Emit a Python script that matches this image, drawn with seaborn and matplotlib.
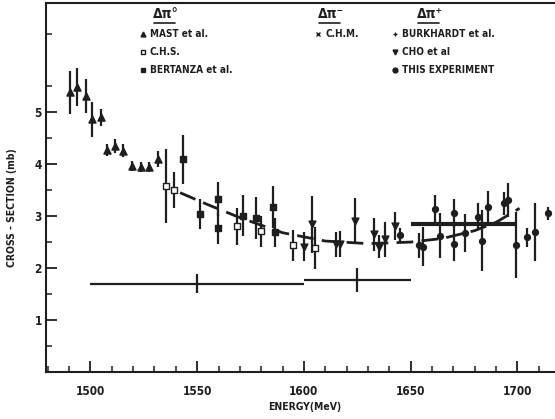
import numpy as np
import pandas as pd
import matplotlib
matplotlib.use("Agg")
import matplotlib.pyplot as plt
import seaborn as sns

# ---------------- data ----------------
mast_E = [1490.4, 1493.5, 1497.8, 1500.8, 1504.8, 1507.6, 1511.5, 1515.4, 1519.6, 1523.5, 1527.4, 1531.5]
mast_v = [5.38, 5.48, 5.31, 4.86, 4.90, 4.27, 4.35, 4.26, 3.96, 3.95, 3.95, 4.10]
mast_e = [0.42, 0.36, 0.33, 0.34, 0.17, 0.12, 0.14, 0.12, 0.10, 0.10, 0.10, 0.16]

chs_E = [1535.4, 1539.3, 1568.6, 1579.9, 1594.7, 1605.2]
chs_v = [3.58, 3.50, 2.80, 2.71, 2.44, 2.39]
chs_e = [0.72, 0.34, 0.35, 0.30, 0.30, 0.40]

bert_E = [1543.2, 1551.3, 1559.6, 1559.6, 1571.6, 1577.5, 1585.3, 1586.3]
bert_v = [4.09, 3.04, 3.33, 2.78, 3.01, 2.96, 3.17, 2.69]
bert_e = [0.47, 0.28, 0.33, 0.31, 0.40, 0.40, 0.40, 0.28]

cho_E = [1599.9, 1603.6, 1615.0, 1616.9, 1623.9, 1632.8, 1635.1, 1637.9, 1642.6]
cho_v = [2.41, 2.84, 2.46, 2.46, 2.91, 2.65, 2.41, 2.55, 2.81]
cho_e = [0.28, 0.55, 0.24, 0.25, 0.43, 0.32, 0.22, 0.33, 0.27]

this_E = [1645.0, 1653.9, 1655.9, 1661.4, 1663.7, 1670.4, 1670.4, 1675.4, 1681.6,
          1683.2, 1686.4, 1693.5, 1695.7, 1699.3, 1704.3, 1708.4, 1714.4]
this_v = [2.63, 2.44, 2.41, 3.13, 2.62, 3.06, 2.47, 2.67, 2.99,
          2.53, 3.17, 3.25, 3.31, 2.44, 2.59, 2.69, 3.05]
this_e = [0.14, 0.24, 0.38, 0.28, 0.43, 0.27, 0.33, 0.37, 0.26,
          0.58, 0.31, 0.22, 0.33, 0.64, 0.18, 0.56, 0.12]

# Delta pi- (C.H.M.) broad bins
chm_E = [1550, 1625]
chm_v = [1.70, 1.77]
chm_xerr = [50, 25]
chm_yerr = [0.18, 0.24]

# Delta pi+ (Burkhardt) broad bin
burk_E = [1675]
burk_v = [2.84]
burk_xerr = [25]

# dashed fit curve
fit_E = [1542, 1555, 1570, 1590, 1610, 1630, 1650, 1665, 1680, 1690, 1701]
fit_v = [3.45, 3.22, 2.97, 2.68, 2.52, 2.47, 2.50, 2.57, 2.72, 2.88, 3.15]

x_ticks = [1500, 1550, 1600, 1650, 1700]
y_ticks = [1, 2, 3, 4, 5]

# ---------------- drawing ----------------
sns.set_theme(style="ticks")
plt.rcParams['font.family'] = ['DejaVu Sans']
plt.rcParams['font.stretch'] = 'condensed'
INK = "#1e1e1e"

W, H = 555, 419
fig = plt.figure(figsize=(W / 100, H / 100), dpi=100)
fig.patch.set_facecolor("white")
ax = fig.add_axes([46 / W, (H - 372) / H, (W - 46) / W, (372 - 3) / H])
ax.set_facecolor("white")

def series(E, v, e, marker, filled=True, size=22):
    ax.errorbar(E, v, yerr=e, fmt="none", ecolor=INK, elinewidth=1.6, capsize=0, zorder=2)
    df = pd.DataFrame({"E": E, "v": v})
    sns.scatterplot(data=df, x="E", y="v", ax=ax, marker=marker, s=size,
                    color=INK if filled else "white", edgecolor=INK, linewidth=1.0,
                    zorder=3, legend=False)

series(mast_E, mast_v, mast_e, "^", size=26)
series(chs_E, chs_v, chs_e, "s", filled=False, size=18)
series(bert_E, bert_v, bert_e, "s", size=16)
series(cho_E, cho_v, cho_e, "v", size=24)
series(this_E, this_v, this_e, "o", size=18)

ax.errorbar(chm_E, chm_v, xerr=chm_xerr, yerr=chm_yerr, fmt="none", ecolor=INK,
            elinewidth=1.6, capsize=0, zorder=2)
ax.errorbar(burk_E, burk_v, xerr=burk_xerr, fmt="none", ecolor=INK,
            elinewidth=3.0, capsize=0, zorder=2)

fit_df = pd.DataFrame({"E": fit_E, "v": fit_v})
sns.lineplot(data=fit_df, x="E", y="v", ax=ax, color=INK, linewidth=2.0,
             dashes=False, zorder=2, legend=False)
ax.lines[-1].set_dashes([6, 3])

ax.set_xlim(1479.2, 1717.6)
ax.set_ylim(0, 7.1)
ax.set_xticks(x_ticks)
ax.set_xticklabels([str(t) for t in x_ticks])
ax.set_xticks(np.arange(1480, 1720, 10), minor=True)
ax.set_yticks(y_ticks)
ax.set_yticklabels([str(t) for t in y_ticks])
ax.set_yticks(np.arange(0.5, 7.0, 1.0), minor=True)
ax.tick_params(which="major", direction="in", length=8, width=1.3, colors=INK,
               labelsize=8.5)
ax.tick_params(which="minor", direction="in", length=4, width=1.1, colors=INK)
ax.tick_params(axis="x", pad=9)
ax.tick_params(axis="y", pad=3)
for lab in ax.get_xticklabels() + ax.get_yticklabels():
    lab.set_fontweight("bold")
    lab.set_fontstretch("condensed")

ax.spines["right"].set_visible(False)
for s in ["left", "bottom", "top"]:
    ax.spines[s].set_color(INK)
    ax.spines[s].set_linewidth(1.5)

ax.set_xlabel("")
ax.set_ylabel("")
fig.text(305 / W, 1 - 407 / H, "ENERGY(MeV)", ha="center", va="center",
         fontsize=7.5, fontweight="bold", fontstretch="condensed", color=INK)
fig.text(12 / W, 1 - 208 / H, "CROSS - SECTION (mb)", ha="center", va="center",
         rotation=90, fontsize=7.5, fontweight="bold", fontstretch="condensed", color=INK)

# legend drawn as text blocks
def fx(px):
    return px / W
def fy(py):
    return 1 - py / H

headers = [("Δπ°", 166), ("Δπ⁻", 331), ("Δπ⁺", 430)]
for txt, cx in headers:
    fig.text(fx(cx), fy(14), txt, ha="center", va="center", fontsize=10,
             fontweight="bold", fontstretch="condensed", color=INK)
    fig.add_artist(plt.Line2D([fx(cx - 12), fx(cx + 9)], [fy(23), fy(23)],
                              color=INK, lw=1.2, transform=fig.transFigure))

entries = [
    (143, 34, "^", True, "MAST et al."),
    (143, 52, "s", False, "C.H.S."),
    (143, 70, "s", True, "BERTANZA et al."),
    (318, 34, "x", True, "C.H.M."),
    (395, 34, "+", True, "BURKHARDT et al."),
    (395, 52, "v", True, "CHO et al"),
    (395, 70, "o", True, "THIS EXPERIMENT"),
]
for mx, my, mk, filled, label in entries:
    fig.add_artist(plt.Line2D([fx(mx)], [fy(my)], marker=mk, markersize=3.5,
                              markerfacecolor=INK if filled else "white",
                              markeredgecolor=INK, markeredgewidth=1.0,
                              linestyle="none", transform=fig.transFigure))
    fig.text(fx(mx + 7), fy(my), label, ha="left", va="center", fontsize=7.2,
             fontweight="bold", fontstretch="condensed", color=INK)

fig.savefig("out.png", dpi=100, facecolor="white")
